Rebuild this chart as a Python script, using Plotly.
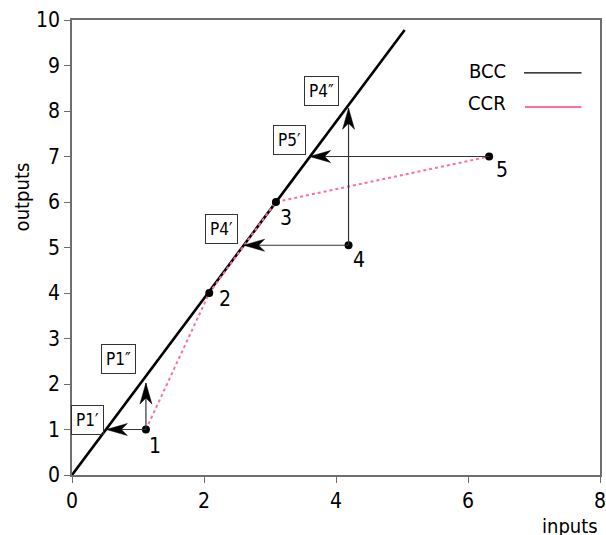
import plotly.graph_objects as go

# ---- data ----
dmu_ids = ["1", "2", "3", "4", "5"]
dmu_inputs = [1.12, 2.08, 3.09, 4.19, 6.32]
dmu_outputs = [1.00, 4.00, 6.00, 5.05, 7.00]

bcc_x = [0.0, 5.04]
bcc_y = [0.0, 9.78]

ccr_path = [0, 1, 2, 4]  # indices of DMUs joined by the dotted line

proj_labels = ["P1′", "P1″", "P4′", "P4″", "P5′"]
proj_from = [0, 0, 3, 3, 4]
proj_x = [0.52, 1.12, 2.60, 4.19, 3.60]
proj_y = [1.00, 2.02, 5.05, 8.06, 7.00]

x_ticks = [0, 2, 4, 6, 8]
y_ticks = list(range(0, 11))

# ---- styles ----
FONT = "DejaVu Sans Condensed, Liberation Sans Narrow, Liberation Sans, sans-serif"
AX = "#6e6e6e"
PINK = "#ff6f98"
ARROW = "#333333"

# pixel offsets of the boxed labels relative to the arrow tips
box_shift = [(-19, 9.5), (-27, 24), (-22, 16), (-27.5, 17), (-20, 16.5)]
# pixel offsets of the DMU number labels relative to the points
num_shift = [(9, -16), (16, -6), (10, -16), (10, -15), (12.5, -13)]

fig = go.Figure()

# BCC frontier
fig.add_trace(go.Scatter(x=bcc_x, y=bcc_y, mode="lines",
                         line=dict(color="black", width=2.6), showlegend=False))
# CCR dotted path
fig.add_trace(go.Scatter(x=[dmu_inputs[i] for i in ccr_path],
                         y=[dmu_outputs[i] for i in ccr_path], mode="lines",
                         line=dict(color=PINK, width=2, dash="dot"), showlegend=False))

shapes = []
annotations = []

# projection arrows
L, W, N = 21, 6, 6  # arrowhead length, half width, notch depth (pixels)
for k in range(len(proj_labels)):
    i = proj_from[k]
    x0, y0 = dmu_inputs[i], dmu_outputs[i]
    x1, y1 = proj_x[k], proj_y[k]
    shapes.append(dict(type="line", xref="x", yref="y", x0=x0, y0=y0, x1=x1, y1=y1,
                       line=dict(color=ARROW, width=1.2), layer="above"))
    if y1 == y0:
        dx, dy = (-1, 0) if x1 < x0 else (1, 0)
    else:
        dx, dy = (0, 1) if y1 > y0 else (0, -1)
    px, py = -dy, dx
    pts = [(0, 0),
           (-L * dx + W * px, -L * dy + W * py),
           (-(L - N) * dx, -(L - N) * dy),
           (-L * dx - W * px, -L * dy - W * py)]
    path = "M" + " L".join(f"{a:.2f},{b:.2f}" for a, b in pts) + " Z"
    shapes.append(dict(type="path", xref="x", yref="y", xsizemode="pixel", ysizemode="pixel",
                       xanchor=x1, yanchor=y1, path=path,
                       fillcolor="black", line=dict(color="black", width=0.5), layer="above"))
    sx, sy = box_shift[k]
    annotations.append(dict(x=x1, y=y1, xref="x", yref="y", text=proj_labels[k],
                             showarrow=False, xshift=sx, yshift=sy,
                             font=dict(family=FONT, size=17, color="black"),
                             bordercolor="#333", borderwidth=1, borderpad=4,
                             bgcolor="rgba(255,255,255,0)"))

# DMU points
fig.add_trace(go.Scatter(x=dmu_inputs, y=dmu_outputs, mode="markers",
                         marker=dict(color="black", size=8), showlegend=False))
for i, lab in enumerate(dmu_ids):
    sx, sy = num_shift[i]
    annotations.append(dict(x=dmu_inputs[i], y=dmu_outputs[i], xref="x", yref="y",
                            text=lab, showarrow=False, xshift=sx, yshift=sy,
                            font=dict(family=FONT, size=21, color="black")))

# manual legend
annotations.append(dict(x=0.825, y=0.888, xref="paper", yref="paper", text="BCC",
                        showarrow=False, xanchor="right", yanchor="middle",
                        font=dict(family=FONT, size=20, color="black")))
annotations.append(dict(x=0.825, y=0.818, xref="paper", yref="paper", text="CCR",
                        showarrow=False, xanchor="right", yanchor="middle",
                        font=dict(family=FONT, size=20, color="black")))
shapes.append(dict(type="line", xref="paper", yref="paper", x0=0.856, x1=0.965,
                   y0=0.884, y1=0.884, line=dict(color="black", width=1.3)))
shapes.append(dict(type="line", xref="paper", yref="paper", x0=0.858, x1=0.965,
                   y0=0.809, y1=0.809, line=dict(color=PINK, width=2)))

# axis titles
annotations.append(dict(x=-0.095, y=0.612, xref="paper", yref="paper", text="outputs",
                        showarrow=False, textangle=-90, xanchor="center", yanchor="middle",
                        font=dict(family=FONT, size=20, color="black")))
annotations.append(dict(x=1.0, y=-0.112, xref="paper", yref="paper", text="inputs",
                        showarrow=False, xanchor="right", yanchor="middle",
                        font=dict(family=FONT, size=20, color="black")))

fig.update_layout(
    width=606, height=535,
    margin=dict(l=72, r=6, t=20, b=60, autoexpand=False),
    paper_bgcolor="white", plot_bgcolor="white",
    showlegend=False,
    shapes=shapes, annotations=annotations,
    font=dict(family=FONT, size=20, color="black"),
    xaxis=dict(range=[0, 8], tickvals=x_ticks, showgrid=False, zeroline=False,
               showline=True, linecolor=AX, linewidth=1.5, mirror=True,
               ticks="outside", ticklen=6, tickcolor=AX, tickwidth=1.2, automargin=False,
               ticklabeloverflow="allow",
               tickfont=dict(family=FONT, size=21, color="black")),
    yaxis=dict(range=[0, 10], tickvals=y_ticks, showgrid=False, zeroline=False,
               showline=True, linecolor=AX, linewidth=1.5, mirror=True,
               ticks="outside", ticklen=6, tickcolor=AX, tickwidth=1.2, automargin=False,
               ticklabeloverflow="allow",
               tickfont=dict(family=FONT, size=21, color="black")),
)

fig.write_html("out.html", config={"displayModeBar": False},
               post_script="document.body.style.margin='0px';document.body.style.overflow='hidden';")
